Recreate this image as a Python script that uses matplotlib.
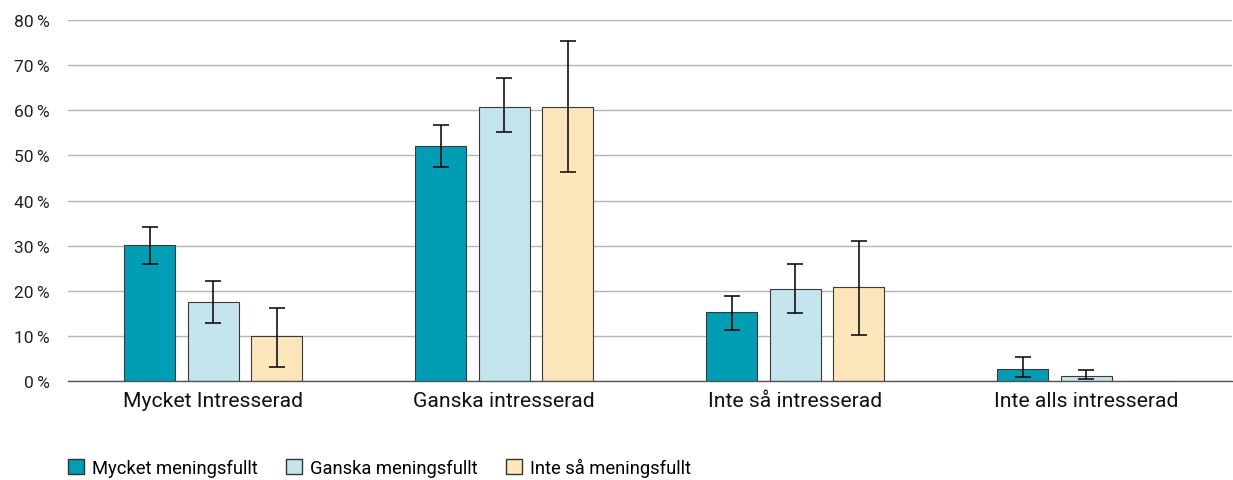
import matplotlib.pyplot as plt
import numpy as np
from matplotlib.patches import Patch

plt.rcParams['font.family'] = ['Roboto', 'DejaVu Sans']

categories = ["Mycket Intresserad", "Ganska intresserad", "Inte så intresserad", "Inte alls intresserad"]
series = ["Mycket meningsfullt", "Ganska meningsfullt", "Inte så meningsfullt"]
colors = ["#009db4", "#c5e5ee", "#fde5bc"]

mycket = [30.1, 52.1, 15.3, 2.7]
mycket_lo = [26.0, 47.4, 11.2, 0.8]
mycket_hi = [34.2, 56.7, 18.9, 5.2]

ganska = [17.5, 60.8, 20.3, 1.1]
ganska_lo = [12.9, 55.1, 15.0, 0.4]
ganska_hi = [22.2, 67.1, 26.0, 2.5]

inte = [9.9, 60.8, 20.8, 0.0]
inte_lo = [3.0, 46.3, 10.1, np.nan]
inte_hi = [16.2, 75.3, 31.0, np.nan]

values = [mycket, ganska, inte]
lows = [mycket_lo, ganska_lo, inte_lo]
highs = [mycket_hi, ganska_hi, inte_hi]

fig = plt.figure(figsize=(12.33, 4.81), dpi=100)
ax = fig.add_axes([0.055, 0.206, 0.944, 0.75])

x = np.arange(len(categories))
offsets = [-0.218, 0, 0.218]
for vals, lo, hi, off, col, name in zip(values, lows, highs, offsets, colors, series):
    v = np.array(vals)
    err = np.array([v - np.array(lo), np.array(hi) - v])
    ax.bar(x + off, v, width=0.175, color=col, edgecolor="#3a3a3a", linewidth=0.8,
           label=name, zorder=2)
    ax.errorbar(x + off, v, yerr=err, fmt="none", ecolor="black", elinewidth=1.1,
                capsize=5.5, capthick=1.1, zorder=3)

ax.set_xlim(-0.5, 3.5)
ax.set_ylim(0, 80)
ax.set_yticks(range(0, 81, 10))
ax.set_yticklabels([f"{t}\u2009%" for t in range(0, 81, 10)], fontsize=12.5, color="#222222")
ax.set_xticks(x)
ax.set_xticklabels(categories, fontsize=15.2, color="#111111")
ax.tick_params(axis="both", length=0)
ax.tick_params(axis="x", pad=7)
ax.tick_params(axis="y", pad=13)
ax.yaxis.grid(True, color="#b5b5b5", linewidth=1.0, zorder=0)
ax.set_axisbelow(True)
for s in ["top", "right", "left"]:
    ax.spines[s].set_visible(False)
ax.spines["bottom"].set_color("#555555")
ax.spines["bottom"].set_linewidth(1.0)

handles = [Patch(facecolor=c, edgecolor="#333333", label=n) for c, n in zip(colors, series)]
fig.legend(handles=handles, loc="center left", bbox_to_anchor=(0.042, 0.027), ncol=3,
           frameon=False, fontsize=13.2, handlelength=0.85, handleheight=0.85,
           handletextpad=0.45, columnspacing=1.55)

fig.savefig("out.png", dpi=100)
